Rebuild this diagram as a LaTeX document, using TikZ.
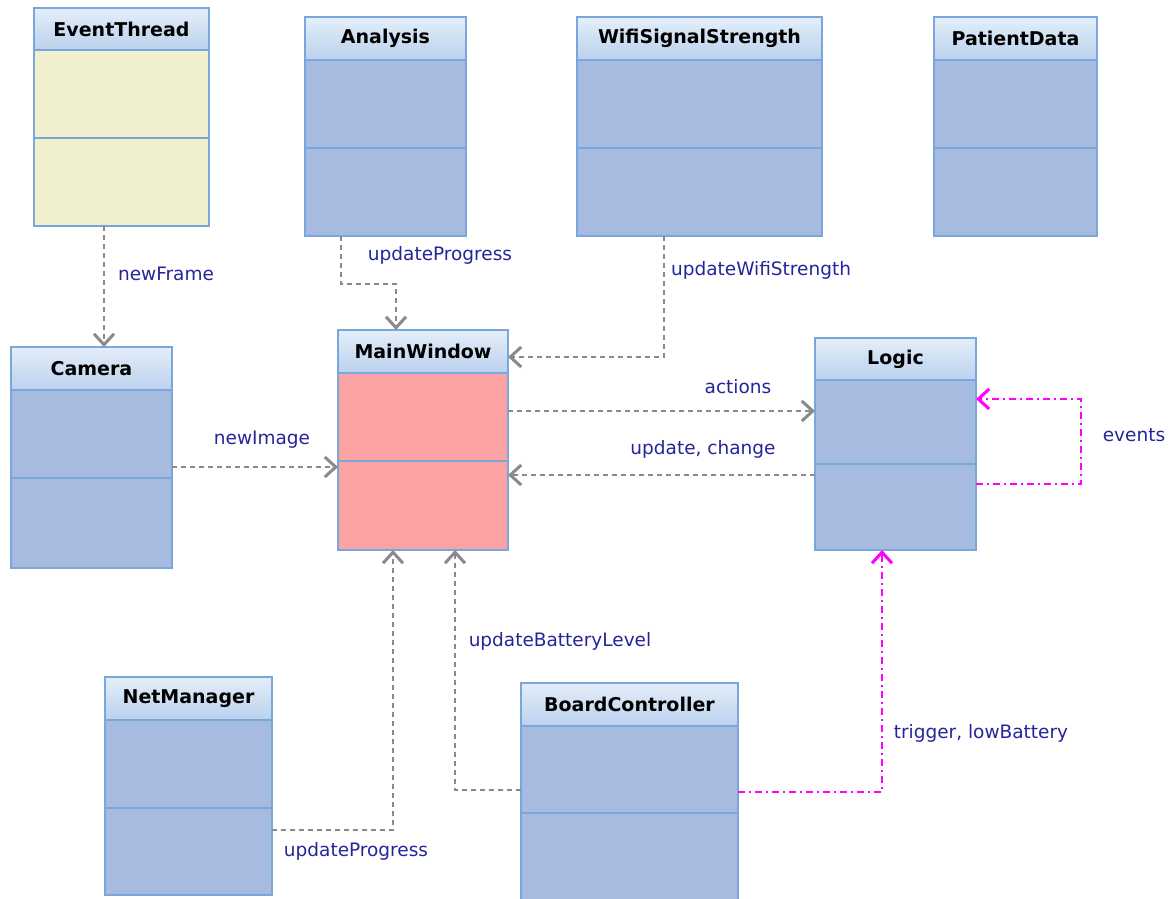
\documentclass[tikz,border=0pt]{standalone}
\usepackage{fontspec}
\setmainfont{DejaVu Sans}
\usetikzlibrary{arrows.meta}

\definecolor{bodyblue}{HTML}{A7BBE1}
\definecolor{bodypink}{HTML}{FBA3A3}
\definecolor{bodyyellow}{HTML}{F0F0CF}
\definecolor{frame}{HTML}{7AA7DA}
\definecolor{headtop}{HTML}{E4EEF9}
\definecolor{headbot}{HTML}{BAD1ED}
\definecolor{labelblue}{HTML}{26249A}
\definecolor{depgray}{HTML}{8A8A8A}
\definecolor{sigpink}{HTML}{FF00FF}

\tikzset{
  classbody/.style={draw=frame, line width=1.5pt, rectangle, inner sep=0pt, outer sep=0pt},
  classhead/.style={draw=frame, line width=1.5pt, rectangle, inner sep=0pt, outer sep=0pt,
    top color=headtop, bottom color=headbot,
    font=\fontsize{19}{21}\selectfont\bfseries, text=black},
  classline/.style={draw=frame, line width=1.5pt},
  tipbarb/.style={-{Straight Barb[length=11pt,width=20pt,line width=3pt]}},
  dep/.style={depgray, line width=1.8pt, dash pattern=on 5pt off 4pt, tipbarb},
  sig/.style={sigpink, line width=1.8pt, dash pattern=on 7pt off 4pt on 2pt off 4pt, tipbarb},
  lbl/.style={text=labelblue, font=\fontsize{18.5}{20}\selectfont, inner sep=0pt}
}

% #1 name, #2 title, #3 x, #4 y (top left), #5 width, #6 height,
% #7 header height, #8 divider offset, #9 body colour
\newcommand\umlclass[9]{%
  \node[classbody, fill=#9, minimum width=#5pt, minimum height=#6pt, anchor=north west] (#1) at (#3,#4) {};
  \node[classhead, minimum width=#5pt, minimum height=#7pt, anchor=north west] (#1-head) at (#3,#4) {#2};
  \draw[classline] ([yshift=-#8pt]#1.north west) -- ([yshift=-#8pt]#1.north east);
}

\begin{document}
\begin{tikzpicture}[x=1pt, y=-1pt]
  \useasboundingbox (0,0) rectangle (1173,899);
  \clip (0,0) rectangle (1173,899);

  % classes
  \umlclass{eventthread}{EventThread}{34}{8}{175}{218}{42}{130}{bodyyellow}
  \umlclass{analysis}{Analysis}{305}{17}{161}{219}{43}{131}{bodyblue}
  \umlclass{wifi}{WifiSignalStrength}{577}{17}{245}{219}{43}{131}{bodyblue}
  \umlclass{patientdata}{PatientData}{934}{17}{163}{219}{43}{131}{bodyblue}
  \umlclass{camera}{Camera}{11}{347}{161}{221}{43}{131}{bodyblue}
  \umlclass{mainwindow}{MainWindow}{338}{330}{170}{220}{43}{131}{bodypink}
  \umlclass{logic}{Logic}{815}{338}{161}{212}{42}{126}{bodyblue}
  \umlclass{netmanager}{NetManager}{105}{677}{167}{218}{43}{131}{bodyblue}
  \umlclass{board}{BoardController}{521}{683}{217}{230}{43}{130}{bodyblue}

  % dependencies
  \draw[dep] ([xshift=70pt]eventthread.south west) -- ([xshift=93pt]camera.north west);
  \node[lbl] (l-newframe) at (166,274) {newFrame};

  \draw[dep] ([xshift=36pt]analysis.south west) -- ++(0,48) -| ([xshift=58pt]mainwindow.north west);
  \node[lbl] (l-upd1) at (440,255) {updateProgress};

  \draw[dep] ([xshift=87pt]wifi.south west) |- ([yshift=-27pt]mainwindow.north east);
  \node[lbl] (l-wifi) at (761,270) {updateWifiStrength};

  \draw[dep] ([yshift=-81pt]mainwindow.north east) -- ([yshift=-73pt]logic.north west);
  \node[lbl] (l-actions) at (738,387) {actions};

  \draw[dep] ([yshift=-137pt]logic.north west) -- ([yshift=-145pt]mainwindow.north east);
  \node[lbl] (l-update) at (703,449) {update, change};

  \draw[dep] ([yshift=-120pt]camera.north east) -- ([yshift=-137pt]mainwindow.north west);
  \node[lbl] (l-newimage) at (262,440) {newImage};

  \draw[dep] ([yshift=-107pt]board.north west) -| ([xshift=117pt]mainwindow.south west);
  \node[lbl] (l-battery) at (560,641) {updateBatteryLevel};

  \draw[dep] ([yshift=-153pt]netmanager.north east) -| ([xshift=55pt]mainwindow.south west);
  \node[lbl] (l-upd2) at (356,851) {updateProgress};

  % signals
  \draw[sig] ([yshift=-146pt]logic.north east) -- ++(105,0) |- ([yshift=-61pt]logic.north east);
  \node[lbl] (l-events) at (1134,435) {events};

  \draw[sig] ([yshift=-109pt]board.north east) -| ([xshift=67pt]logic.south west);
  \node[lbl] (l-trigger) at (981,733) {trigger, lowBattery};
\end{tikzpicture}
\end{document}
